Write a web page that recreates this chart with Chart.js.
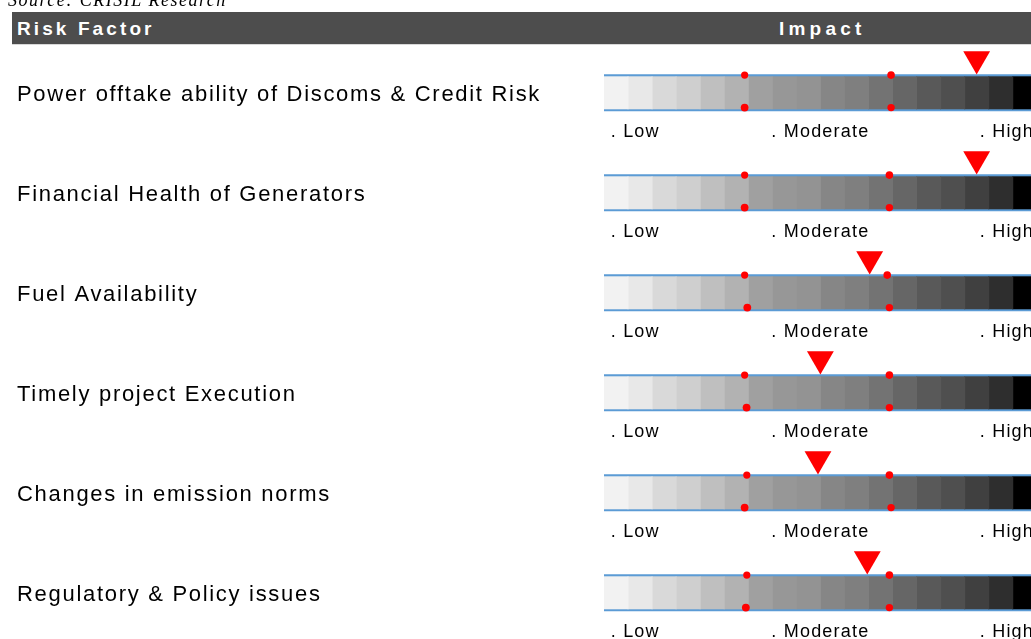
<!DOCTYPE html>
<html>
<head>
<meta charset="utf-8">
<script src="https://cdn.jsdelivr.net/npm/chart.js@4.4.1/dist/chart.umd.min.js"></script>
<style>
  html, body { margin: 0; padding: 0; background: #ffffff; overflow: hidden; }
  #wrap { position: relative; width: 1031px; height: 639px; overflow: hidden; }
  #chart { position: absolute; left: 0; top: 0; }
  #source { position: absolute; left: 8px; top: -9px; font: italic 18px "Liberation Serif", "Times New Roman", serif; line-height: 18px; letter-spacing: 1.5px; color: #000; white-space: nowrap; }
  #header { position: absolute; left: 12px; top: 12px; width: 1019px; height: 32px; background: #4d4d4d; border-bottom: 1px solid #d8d8d8; }
  .htext { position: absolute; top: 1px; font: bold 19px "Liberation Sans", Arial, sans-serif; line-height: 32px; color: #ffffff; white-space: nowrap; }
</style>
</head>
<body>
<div id="wrap">
  <canvas id="chart" width="1031" height="639"></canvas>
  <div id="source">Source: CRISIL Research</div>
  <div id="header">
    <span class="htext" style="left:5px;letter-spacing:3.1px">Risk Factor</span>
    <span class="htext" style="left:767px;letter-spacing:4.2px">Impact</span>
  </div>
</div>
<script>
// ---- data ----
const categories = [
  'Power offtake ability of Discoms & Credit Risk',
  'Financial Health of Generators',
  'Fuel Availability',
  'Timely project Execution',
  'Changes in emission norms',
  'Regulatory & Policy issues'
];
// impact marker (red triangle) on an 18-step scale
const impactValues = [15.5, 15.5, 11.05, 9.0, 8.9, 10.95];
// red boundary dots (low/moderate and moderate/high) above and below each bar
const lowTopX  = [5.85, 5.85, 5.85, 5.85, 5.94, 5.94];
const highTopX = [11.94, 11.87, 11.78, 11.87, 11.87, 11.87];
const lowBotX  = [5.85, 5.85, 5.96, 5.93, 5.85, 5.90];
const highBotX = [11.94, 11.87, 11.87, 11.87, 11.94, 11.87];
// level labels under each bar
const levelLabels = ['. Low', '. Moderate', '. High'];
const levelPos = [0.28, 6.96, 15.63];
// gradient steps
const stepColors = ['#f2f2f2','#e8e8e8','#d9d9d9','#cfcfcf','#bfbfbf','#b2b2b2','#a0a0a0','#979797','#939393',
                    '#868686','#7f7f7f','#737373','#666666','#595959','#4f4f4f','#404040','#2e2e2e','#000000'];

// ---- chart ----
const rows = categories.map((c, i) => i + 1);
const BLUE = '#5b9bd5';
const RED = '#ff0000';

const datasets = [];
datasets.push({
  type: 'scatter', label: 'impact', order: 0,
  data: rows.map((r, i) => ({ x: impactValues[i], y: r - 0.337 })),
  pointStyle: 'triangle', rotation: 180, pointRadius: 15.5, hoverRadius: 0,
  backgroundColor: RED, borderColor: RED, borderWidth: 0
});
[[lowTopX, -0.177, 3.6], [highTopX, -0.177, 3.8], [lowBotX, 0.148, 3.9], [highBotX, 0.148, 3.7]].forEach(([arr, off, rad], k) => {
  datasets.push({
    type: 'scatter', label: 'dot' + k, order: 1,
    data: rows.map((r, i) => ({ x: arr[i], y: r + off })),
    pointStyle: 'circle', pointRadius: rad, hoverRadius: 0,
    backgroundColor: RED, borderColor: RED, borderWidth: 0
  });
});
stepColors.forEach((col, s) => {
  datasets.push({
    type: 'bar', label: 'step' + s, order: 2,
    data: rows.map(r => ({ x: [s, s + 1], y: r })),
    backgroundColor: col, borderWidth: 0,
    barThickness: 32, grouped: false, inflateAmount: 0.5
  });
});
// blue rails above and below each scale (a full-length bar behind the steps)
datasets.push({
  type: 'bar', label: 'rail', order: 3,
  data: rows.map(r => ({ x: [0, stepColors.length], y: r })),
  backgroundColor: BLUE, borderWidth: 0,
  barThickness: 37, grouped: false, inflateAmount: 0
});

const levelLabelPlugin = {
  id: 'levelLabels',
  afterDatasetsDraw(chart) {
    const { ctx, scales: { x, y } } = chart;
    ctx.save();
    ctx.font = '18px "Liberation Sans", Arial, sans-serif';
    ctx.fillStyle = '#000';
    ctx.textAlign = 'left';
    ctx.textBaseline = 'alphabetic';
    ctx.letterSpacing = '1.2px';
    rows.forEach(r => {
      levelLabels.forEach((t, j) => {
        ctx.fillText(t, x.getPixelForValue(levelPos[j]), y.getPixelForValue(r + 0.44));
      });
    });
    ctx.restore();
  }
};

const spacingPlugin = {
  id: 'spacing',
  beforeDraw(chart) { chart.ctx.letterSpacing = '1.7px'; },
  afterDraw(chart) { chart.ctx.letterSpacing = '0px'; }
};

new Chart(document.getElementById('chart'), {
  type: 'bar',
  data: { datasets },
  options: {
    indexAxis: 'y',
    responsive: false,
    animation: false,
    events: [],
    layout: { autoPadding: false, padding: { left: 17, right: 0, top: 0, bottom: 0 } },
    plugins: { legend: { display: false }, tooltip: { enabled: false } },
    scales: {
      x: { type: 'linear', min: 0, max: 17.76, display: false, offset: false },
      y: {
        type: 'linear', reverse: true, min: 0.072, max: 6.462, offset: false,
        grid: { display: false }, border: { display: false },
        afterBuildTicks(scale) { scale.ticks = rows.map(v => ({ value: v })); },
        afterFit(scale) { scale.width = 587; scale.paddingTop = 0; scale.paddingBottom = 0; },
        ticks: {
          autoSkip: false, padding: 0, crossAlign: 'far', color: '#000', labelOffset: 2,
          font: { family: '"Liberation Sans", Arial, sans-serif', size: 22 },
          callback: (v, i) => categories[i]
        }
      }
    }
  },
  plugins: [spacingPlugin, levelLabelPlugin]
});
</script>
</body>
</html>
